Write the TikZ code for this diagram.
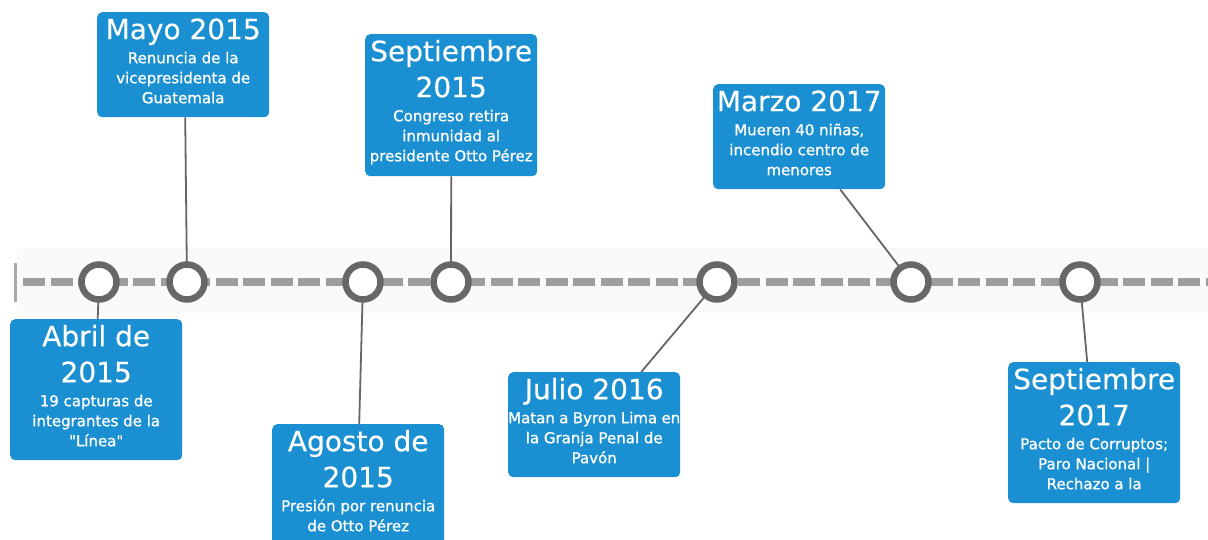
\documentclass[tikz,border=0pt]{standalone}
\usepackage{fontspec}
\setmainfont{DejaVu Sans}
\newfontfamily\titlefont{DejaVu Sans}[FakeBold=0.3]
\newfontfamily\bodyfont{DejaVu Sans}[FakeBold=1.1]
\usetikzlibrary{backgrounds}
\definecolor{boxblue}{HTML}{1A8FD1}
\definecolor{ringgray}{HTML}{676767}
\definecolor{dashgray}{HTML}{9E9E9E}
\definecolor{tickgray}{HTML}{AAAAAA}
\definecolor{bandgray}{HTML}{FAFAFA}
\definecolor{conngray}{HTML}{666666}
\newcommand{\evtext}[3]{\parbox[c][#1][t]{172pt}{\centering
\titlefont\fontsize{28}{36}\selectfont\rule{0pt}{27pt}#2\par
\vspace{4pt}
\bodyfont\fontsize{15}{20}\selectfont #3\par}}
\tikzset{
  evbox/.style={fill=boxblue, rounded corners=5pt, inner sep=0pt, text=white, anchor=north west},
  ring/.style={circle, draw=ringgray, line width=6.5pt, fill=white, minimum size=35pt, inner sep=0pt},
  conn/.style={draw=conngray, line width=1.8pt},
  timeline/.style={draw=dashgray, line width=8pt, dash pattern=on 22pt off 5.5pt},
  tick/.style={draw=tickgray, line width=3pt}
}
\begin{document}
\begin{tikzpicture}[x=1pt, y=-1pt]
\useasboundingbox (0,0) rectangle (1208,539);
\begin{scope}[on background layer]
  \fill[white] (0,0) rectangle (1208,539);
  \fill[bandgray] (17,248) rectangle (1208,313);
\end{scope}
% timeline
\coordinate (ticktop) at (15,263);
\coordinate (tickbot) at (15,302);
\draw[tick] (ticktop) -- (tickbot);
\coordinate (tlstart) at (23,282);
\coordinate (tlend) at (1212,282);
\draw[timeline] (tlstart) -- (tlend);
% rings
\node[ring] (c1) at (99,282) {};
\node[ring] (c2) at (187,282) {};
\node[ring] (c3) at (363,282) {};
\node[ring] (c4) at (451,282) {};
\node[ring] (c5) at (717,282) {};
\node[ring] (c6) at (911,282) {};
\node[ring] (c7) at (1080,282) {};
% boxes
\node[evbox] (b1) at (10,319) {\evtext{141pt}{Abril de\\2015}{19 capturas de\\integrantes de la\\"Línea"}};
\node[evbox] (b2) at (97,12) {\evtext{105pt}{Mayo 2015}{Renuncia de la\\vicepresidenta de\\Guatemala}};
\node[evbox] (b3) at (272,424) {\evtext{130pt}{Agosto de\\2015}{Presión por renuncia\\de Otto Pérez}};
\node[evbox] (b4) at (365,34) {\evtext{142pt}{Septiembre\\2015}{Congreso retira\\inmunidad al\\presidente Otto Pérez}};
\node[evbox] (b5) at (508,372) {\evtext{105pt}{Julio 2016}{Matan a Byron Lima en\\la Granja Penal de\\Pavón}};
\node[evbox] (b6) at (713,84) {\evtext{105pt}{Marzo 2017}{Mueren 40 niñas,\\incendio centro de\\menores}};
\node[evbox] (b7) at (1008,362) {\evtext{141pt}{Septiembre\\2017}{Pacto de Corruptos;\\Paro Nacional |\\Rechazo a la}};
% connectors
\begin{scope}[on background layer]
  \draw[conn] (c1.center) -- ([xshift=1.5pt]b1.north);
  \draw[conn] (c2.center) -- ([xshift=2pt]b2.south);
  \draw[conn] (c3.center) -- ([xshift=1pt]b3.north);
  \draw[conn] (c4.center) -- (b4.south);
  \draw[conn] (c5.center) -- ([xshift=47pt]b5.north);
  \draw[conn] (c6.center) -- ([xshift=41pt]b6.south);
  \draw[conn] (c7.center) -- ([xshift=-7pt]b7.north);
\end{scope}
\end{tikzpicture}
\end{document}
